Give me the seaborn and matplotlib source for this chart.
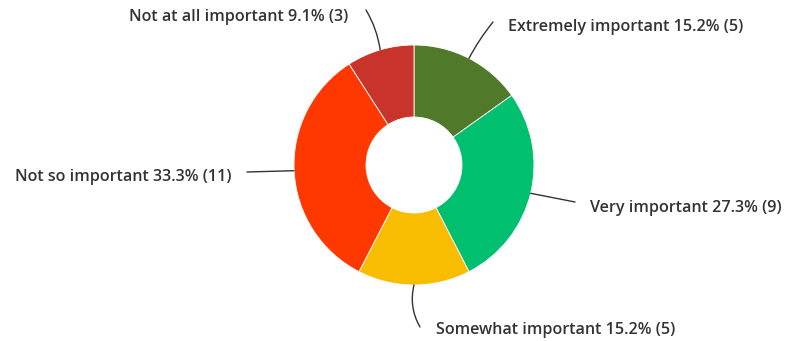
import numpy as np
import matplotlib
matplotlib.use("Agg")
import matplotlib.pyplot as plt
import seaborn as sns
from matplotlib.patches import FancyArrowPatch

categories = ["Extremely important", "Very important", "Somewhat important",
              "Not so important", "Not at all important"]
counts = [5, 9, 5, 11, 3]
colors = ["#507a2a", "#00bf6f", "#f8bd00", "#ff3800", "#c8342b"]

sns.set_theme(style="white")
plt.rcParams["font.family"] = ["Open Sans", "DejaVu Sans"]

W, H = 793, 341
CX, CY, R = 414, 165, 120  # pie centre & radius in pixels

fig = plt.figure(figsize=(W / 100, H / 100), dpi=100)
ax = fig.add_axes([0, 0, 1, 1])

wedges, _ = ax.pie(counts, colors=colors, startangle=90, counterclock=False,
                   radius=1, wedgeprops=dict(width=0.6, edgecolor="white", linewidth=0.6))
ax.set_aspect("auto")
ax.set_xlim(-CX / R, (W - CX) / R)
ax.set_ylim(-(H - CY) / R, CY / R)
ax.axis("off")

def px(x, y):
    return ((x - CX) / R, (CY - y) / R)

# label layout (pixel positions): line end, text anchor, alignment, curvature
layout = [
    ((493, 22), (508, 27), "left", -0.05),
    ((575, 202), (590, 208), "left", 0.0),
    ((420, 327), (436, 330), "left", 0.2),
    ((247, 172), (232, 177), "right", 0.0),
    ((366, 10), (348, 17), "right", 0.1),
]

total = sum(counts)
for w, cat, n, (lend, tpos, ha, rad) in zip(wedges, categories, counts, layout):
    ang = np.deg2rad((w.theta1 + w.theta2) / 2)
    start = (np.cos(ang), np.sin(ang))
    arr = FancyArrowPatch(start, px(*lend), arrowstyle="-", color="#333333",
                          linewidth=1.0, connectionstyle=f"arc3,rad={rad}",
                          shrinkA=0, shrinkB=0)
    ax.add_patch(arr)
    pct = n / total * 100
    ax.text(*px(*tpos), f"{cat} {pct:.1f}% ({n})", ha=ha, va="center",
            fontsize=11.6, fontweight="semibold", color="#333333")

fig.savefig("out.png", dpi=100)
